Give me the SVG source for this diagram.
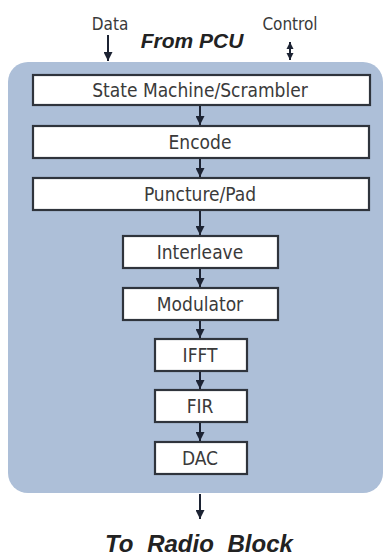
<svg xmlns="http://www.w3.org/2000/svg" width="388" height="558" viewBox="0 0 388 558">
<style>
.box{fill:#ffffff;stroke:#2f343c;stroke-width:2.2}
.lbl{font-family:"DejaVu Sans Condensed","DejaVu Sans",sans-serif;font-stretch:condensed;font-size:19px;fill:#3a3a3a;text-anchor:middle}
.sm{font-family:"DejaVu Sans Condensed","DejaVu Sans",sans-serif;font-stretch:condensed;font-size:17px;fill:#3a3a3a;text-anchor:middle}
.big{font-family:"Liberation Sans",Arial,sans-serif;font-weight:bold;font-style:italic;fill:#222;text-anchor:middle}
.con{stroke:#1c2333;stroke-width:2;fill:none}
</style>
<defs>
<marker id="ah" viewBox="0 0 10 10" refX="10" refY="5" markerWidth="4.5" markerHeight="4.5" orient="auto" markerUnits="strokeWidth">
<path d="M0,0 L10,5 L0,10 z" fill="#1c2333"/>
</marker>
<marker id="ah2" viewBox="0 0 10 10" refX="10" refY="5" markerWidth="3.6" markerHeight="4" orient="auto-start-reverse" markerUnits="strokeWidth">
<path d="M0,0 L10,5 L0,10 z" fill="#1c2333"/>
</marker>
</defs>
<rect id="panel" x="8" y="62" width="375" height="431" rx="20" ry="20" fill="#adbfd8"/>
<g id="labels">
<text class="sm" x="110" y="30">Data</text>
<text class="big" x="192" y="48" font-size="21">From PCU</text>
<text class="sm" x="290" y="30">Control</text>
<text class="big" x="199" y="552" font-size="24" word-spacing="7">To Radio Block</text>
</g>
<g id="n1"><rect class="box" x="33" y="75" width="337" height="30"/><text class="lbl" x="200" y="97">State Machine/Scrambler</text></g>
<g id="n2"><rect class="box" x="33" y="126" width="336" height="32"/><text class="lbl" x="200" y="149">Encode</text></g>
<g id="n3"><rect class="box" x="33" y="178" width="336" height="32"/><text class="lbl" x="200" y="201">Puncture/Pad</text></g>
<g id="n4"><rect class="box" x="123" y="236" width="155" height="32"/><text class="lbl" x="200" y="259">Interleave</text></g>
<g id="n5"><rect class="box" x="123" y="288" width="155" height="32"/><text class="lbl" x="200" y="311">Modulator</text></g>
<g id="n6"><rect class="box" x="155" y="339" width="92" height="32"/><text class="lbl" x="200" y="362">IFFT</text></g>
<g id="n7"><rect class="box" x="155" y="390" width="92" height="32"/><text class="lbl" x="200" y="413">FIR</text></g>
<g id="n8"><rect class="box" x="155" y="442" width="92" height="32"/><text class="lbl" x="200" y="465">DAC</text></g>
<g id="connectors">
<line class="con" x1="108" y1="35" x2="108" y2="61" marker-end="url(#ah)"/>
<line class="con" x1="290" y1="42" x2="290" y2="60" marker-start="url(#ah2)" marker-end="url(#ah2)"/>
<line class="con" x1="200" y1="106" x2="200" y2="125" marker-end="url(#ah)"/>
<line class="con" x1="200" y1="159" x2="200" y2="177" marker-end="url(#ah)"/>
<line class="con" x1="200" y1="211" x2="200" y2="235" marker-end="url(#ah)"/>
<line class="con" x1="200" y1="269" x2="200" y2="287" marker-end="url(#ah)"/>
<line class="con" x1="200" y1="321" x2="200" y2="338" marker-end="url(#ah)"/>
<line class="con" x1="200" y1="372" x2="200" y2="389" marker-end="url(#ah)"/>
<line class="con" x1="200" y1="423" x2="200" y2="441" marker-end="url(#ah)"/>
<line class="con" x1="200" y1="494" x2="200" y2="519" marker-end="url(#ah)"/>
</g>
</svg>
